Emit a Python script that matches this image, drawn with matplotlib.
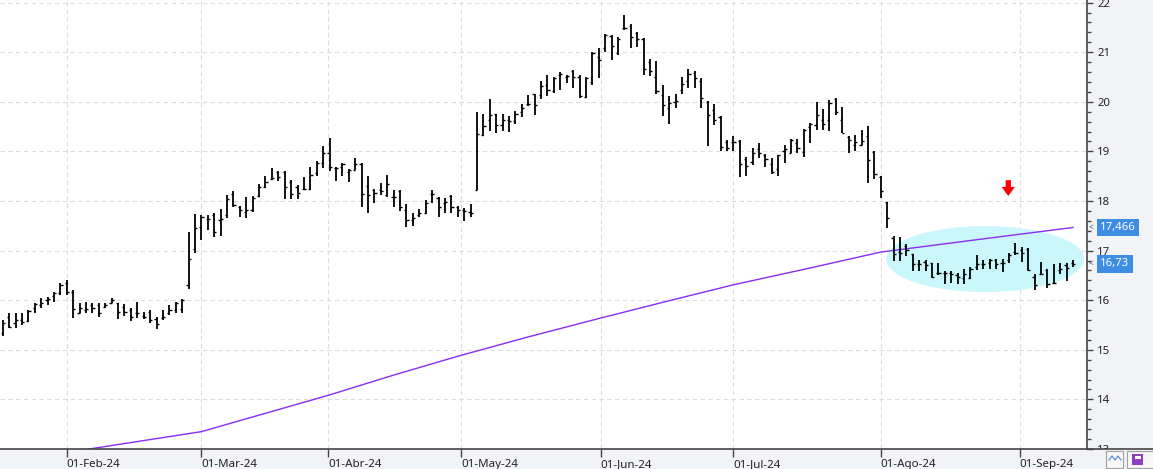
import numpy as np
import pandas as pd
import matplotlib
matplotlib.use('Agg')
import matplotlib.pyplot as plt
import matplotlib.patches as mpatches
import matplotlib.transforms as mtransforms
from matplotlib.lines import Line2D

plt.rcParams['font.family'] = ['Noto Sans', 'DejaVu Sans']

# ── datos ────────────────────────────────────────────────────────────────
# sesiones BME (cerrado: Viernes Santo, Lunes de Pascua, 1 de mayo)
HOLIDAYS = ['2024-03-29', '2024-04-01', '2024-05-01']
dates = pd.bdate_range('2024-01-18', '2024-09-12', freq='C', holidays=HOLIDAYS)

opens = [
    15.33, 15.67, 15.55, 15.60, 15.59, 15.84, 15.90, 16.01, 16.09, 16.15,
    16.34, 16.17, 15.75, 15.80, 15.90, 15.90, 15.87, 15.95, 15.94, 15.87,
    15.80, 15.74, 15.68, 15.77, 15.62, 15.64, 15.75, 15.80, 15.82, 16.31,
    17.04, 17.48, 17.63, 17.72, 17.61, 17.72, 18.15, 17.88, 17.78, 17.82,
    18.11, 18.29, 18.44, 18.59, 18.59, 18.39, 18.29, 18.24, 18.25, 18.56,
    18.76, 18.96, 18.67, 18.69, 18.59, 18.62, 18.74, 18.31, 18.23, 18.22,
    18.12, 18.08, 18.21, 17.82, 17.61, 17.72, 17.76, 18.14, 18.07, 17.96,
    18.10, 17.88, 17.82, 17.78, 18.22, 19.33, 19.63, 19.75, 19.53, 19.63,
    19.62, 19.80, 19.95, 20.15, 20.13, 20.34, 20.22, 20.54, 20.50, 20.62,
    20.50, 20.10, 20.39, 20.91, 21.09, 21.33, 20.98, 21.49, 21.53, 21.38,
    21.26, 20.81, 20.50, 20.14, 19.88, 19.99, 20.24, 20.42, 20.59, 20.42,
    20.00, 19.83, 19.70, 19.19, 19.19, 19.21, 18.84, 18.79, 19.04, 18.93,
    18.74, 18.64, 19.01, 18.97, 19.17, 18.99, 19.50, 19.53, 19.64, 19.63,
    20.05, 19.63, 19.30, 19.13, 19.13, 19.31, 18.99, 18.49, 17.98, 17.25,
    16.98, 17.09, 16.93, 16.73, 16.78, 16.74, 16.54, 16.55, 16.54, 16.51,
    16.44, 16.44, 16.66, 16.73, 16.75, 16.81, 16.75, 16.81, 16.98, 17.02,
    17.04, 16.47, 16.53, 16.61, 16.35, 16.61, 16.71, 16.75,
]
highs = [
    15.60, 15.74, 15.75, 15.74, 15.80, 15.94, 16.04, 16.07, 16.17, 16.34,
    16.41, 16.21, 15.95, 15.97, 15.95, 15.94, 15.95, 16.04, 15.95, 15.92,
    15.84, 15.97, 15.77, 15.80, 15.67, 15.80, 15.90, 15.97, 16.02, 17.38,
    17.73, 17.72, 17.72, 17.75, 17.84, 18.12, 18.20, 17.90, 18.08, 18.10,
    18.35, 18.50, 18.67, 18.60, 18.60, 18.42, 18.32, 18.49, 18.69, 18.80,
    19.11, 19.27, 18.69, 18.76, 18.64, 18.86, 18.76, 18.50, 18.25, 18.37,
    18.52, 18.22, 18.23, 17.94, 17.75, 17.83, 18.02, 18.22, 18.08, 18.07,
    18.12, 17.90, 17.85, 17.94, 19.80, 19.76, 20.05, 19.75, 19.76, 19.71,
    19.82, 19.95, 20.13, 20.15, 20.42, 20.54, 20.50, 20.61, 20.54, 20.64,
    20.54, 20.50, 21.01, 21.09, 21.36, 21.35, 21.31, 21.76, 21.56, 21.40,
    21.28, 20.87, 20.82, 20.34, 20.12, 20.15, 20.50, 20.66, 20.62, 20.47,
    20.01, 19.95, 19.72, 19.23, 19.31, 19.23, 18.89, 19.06, 19.17, 18.95,
    18.86, 18.93, 19.13, 19.24, 19.24, 19.46, 19.58, 20.00, 19.85, 20.03,
    20.07, 19.89, 19.31, 19.33, 19.43, 19.51, 19.01, 18.50, 17.98, 17.29,
    17.27, 17.13, 16.94, 16.82, 16.81, 16.75, 16.75, 16.59, 16.59, 16.55,
    16.62, 16.67, 16.91, 16.81, 16.84, 16.84, 16.84, 16.96, 17.16, 17.08,
    17.06, 16.53, 16.78, 16.62, 16.73, 16.74, 16.75, 16.81,
]
lows = [
    15.27, 15.43, 15.43, 15.50, 15.57, 15.74, 15.84, 15.90, 15.97, 16.11,
    16.11, 15.64, 15.74, 15.75, 15.75, 15.66, 15.84, 15.94, 15.62, 15.69,
    15.58, 15.64, 15.62, 15.55, 15.41, 15.60, 15.70, 15.74, 15.74, 16.22,
    16.96, 17.21, 17.41, 17.28, 17.30, 17.66, 17.88, 17.68, 17.65, 17.77,
    18.09, 18.27, 18.42, 18.40, 18.05, 18.04, 18.05, 18.22, 18.23, 18.51,
    18.67, 18.60, 18.40, 18.51, 18.39, 18.62, 17.88, 17.76, 17.96, 18.12,
    18.08, 17.88, 17.80, 17.48, 17.49, 17.67, 17.74, 17.96, 17.68, 17.76,
    17.76, 17.67, 17.60, 17.68, 18.22, 19.31, 19.42, 19.37, 19.42, 19.40,
    19.56, 19.70, 19.91, 19.73, 20.05, 20.11, 20.17, 20.24, 20.37, 20.27,
    20.07, 20.08, 20.34, 20.48, 21.00, 20.84, 20.94, 21.45, 21.09, 21.11,
    20.55, 20.53, 20.15, 19.72, 19.56, 19.88, 20.15, 20.27, 20.27, 19.88,
    19.11, 19.54, 19.00, 19.00, 19.01, 18.48, 18.50, 18.72, 18.86, 18.68,
    18.54, 18.50, 18.76, 18.96, 18.96, 18.88, 19.17, 19.44, 19.44, 19.42,
    19.73, 19.38, 18.96, 19.01, 19.13, 18.37, 18.45, 18.07, 17.45, 16.80,
    16.80, 16.89, 16.59, 16.59, 16.59, 16.44, 16.51, 16.32, 16.35, 16.32,
    16.32, 16.42, 16.61, 16.62, 16.62, 16.62, 16.57, 16.75, 16.91, 16.78,
    16.59, 16.20, 16.53, 16.24, 16.32, 16.53, 16.39, 16.67,
]
closes = [
    15.55, 15.45, 15.60, 15.57, 15.79, 15.92, 15.94, 16.02, 16.14, 16.31,
    16.17, 15.82, 15.84, 15.82, 15.84, 15.74, 15.90, 16.01, 15.77, 15.77,
    15.67, 15.75, 15.67, 15.60, 15.53, 15.67, 15.80, 15.94, 16.01, 16.84,
    17.45, 17.68, 17.63, 17.37, 17.64, 18.04, 17.92, 17.82, 17.82, 18.06,
    18.29, 18.39, 18.47, 18.49, 18.29, 18.15, 18.17, 18.25, 18.52, 18.76,
    18.96, 18.69, 18.66, 18.74, 18.62, 18.74, 18.15, 18.13, 18.17, 18.21,
    18.34, 18.08, 17.88, 17.61, 17.65, 17.75, 17.95, 18.14, 17.88, 17.98,
    17.88, 17.82, 17.80, 17.76, 19.35, 19.51, 19.73, 19.53, 19.63, 19.62,
    19.76, 19.87, 19.95, 19.93, 20.32, 20.24, 20.47, 20.57, 20.53, 20.49,
    20.12, 20.48, 20.98, 20.84, 21.35, 21.13, 21.26, 21.48, 21.31, 21.26,
    20.67, 20.62, 20.22, 19.93, 19.97, 20.02, 20.35, 20.57, 20.48, 20.07,
    19.73, 19.63, 19.09, 19.06, 19.19, 18.74, 18.70, 18.97, 18.97, 18.84,
    18.59, 18.93, 19.04, 19.23, 19.06, 19.44, 19.55, 19.73, 19.55, 19.97,
    19.80, 19.38, 19.23, 19.19, 19.21, 18.82, 18.54, 18.21, 17.65, 16.94,
    16.96, 17.02, 16.73, 16.73, 16.71, 16.46, 16.54, 16.55, 16.53, 16.46,
    16.53, 16.62, 16.73, 16.73, 16.82, 16.73, 16.75, 16.91, 16.96, 16.96,
    16.61, 16.30, 16.53, 16.32, 16.35, 16.62, 16.64, 16.73,
]

# media móvil larga (lecturas del gráfico)
ma_dates = ['2024-02-06', '2024-02-19', '2024-03-01', '2024-03-15', '2024-04-02',
            '2024-04-16', '2024-04-30', '2024-05-16', '2024-05-31', '2024-06-17',
            '2024-07-01', '2024-07-17', '2024-08-01', '2024-08-22', '2024-09-12']
ma_vals = [12.99, 13.17, 13.35, 13.72, 14.09, 14.49, 14.87, 15.26, 15.63, 15.99,
           16.31, 16.65, 16.97, 17.22, 17.466]

MESES = ['Ene', 'Feb', 'Mar', 'Abr', 'May', 'Jun', 'Jul', 'Ago', 'Sep', 'Oct', 'Nov', 'Dic']
month_starts = pd.date_range('2024-02-01', '2024-09-01', freq='MS')

# ── figura ───────────────────────────────────────────────────────────────
W, H = 1153, 469
PLOT_R, PLOT_B = 1087, 20      # px
BAR_PX, UNIT_PX = 6.409, 49.6  # px por sesión / por euro

fig = plt.figure(figsize=(W / 100, H / 100), dpi=100, facecolor='#f2f3f6')
ax = fig.add_axes([0, PLOT_B / H, PLOT_R / W, 1 - PLOT_B / H])
ax.set_facecolor('white')

x = np.arange(len(dates))
ords = np.array([d.toordinal() for d in dates])
ax.set_xlim(-2.7 / BAR_PX, (PLOT_R - 2.7) / BAR_PX)
ax.set_ylim(13, 13 + (H - PLOT_B) / UNIT_PX)

# zona resaltada
ell = mpatches.Ellipse((153.3, 16.83), 30.9, 1.33, facecolor='#c9f7fb', edgecolor='none', zorder=1)
ax.add_patch(ell)

# media móvil
ma_x = np.interp([pd.Timestamp(d).toordinal() for d in ma_dates], ords, x)
ax.plot(ma_x, ma_vals, color='#8a2cf2', lw=1.0, zorder=2)

# barras OHLC
ax.vlines(x, lows, highs, color='black', lw=1.3, zorder=3)
ax.hlines(opens, x - 0.34, x, color='black', lw=1.0, zorder=3)
ax.hlines(closes, x, x + 0.34, color='black', lw=1.0, zorder=3)

# flecha roja
ax.annotate('', xy=(156.9, 18.10), xytext=(156.9, 18.42),
            arrowprops=dict(arrowstyle='simple,head_width=0.95,head_length=0.65,tail_width=0.38',
                            color='#ff0000', lw=0, shrinkA=0, shrinkB=0), zorder=4)

# ejes
tick_x = np.interp([m.toordinal() for m in month_starts], ords, x)
tick_lab = [f"01-{MESES[m.month - 1]}-{m.strftime('%y')}" for m in month_starts]
ax.set_xticks(tick_x, tick_lab, ha='left')
ax.yaxis.tick_right()
ax.set_yticks(range(13, 23))
ax.yaxis.set_minor_locator(matplotlib.ticker.MultipleLocator(0.2))
ax.tick_params(axis='y', which='major', length=4.5, width=1, color='#444', pad=3,
               labelsize=8.2, labelcolor='#222')
ax.tick_params(axis='y', which='minor', length=2.8, width=1, color='#444')
ax.tick_params(axis='x', length=5.5, width=1, color='#444', pad=1.5,
               labelsize=8.3, labelcolor='#222')
ax.grid(True, which='major', color='#dcdcdc', lw=0.8, linestyle=(0, (4, 3)))
ax.set_axisbelow(True)
for s in ('left', 'top'):
    ax.spines[s].set_visible(False)
for s in ('right', 'bottom'):
    ax.spines[s].set_color('#444')
    ax.spines[s].set_linewidth(1.2)

# el "13" queda medio tapado por la banda inferior
clip = mpatches.Rectangle((0, PLOT_B / H), 1, 1, transform=fig.transFigure)
for t in ax.yaxis.get_major_ticks():
    t.label2.set_clip_path(clip)

fig.add_artist(Line2D([PLOT_R / W, 1], [PLOT_B / H, PLOT_B / H], color='#444', lw=1.2))

# etiquetas de último valor
trans = mtransforms.blended_transform_factory(ax.transAxes, ax.transData)
for val, txt in [(ma_vals[-1], f"{ma_vals[-1]:.3f}".replace('.', ',')),
                 (closes[-1], f"{closes[-1]:.2f}".replace('.', ','))]:
    ax.text(1100 / PLOT_R, val, txt, transform=trans, ha='left', va='center',
            color='white', fontsize=8.2, clip_on=False, zorder=5,
            bbox=dict(boxstyle='square,pad=0.3', fc='#3d8de2', ec='none'))
    ax.text(1088.5 / PLOT_R, val, '<', transform=trans, ha='left', va='center',
            color='#555', fontsize=6, clip_on=False)

# iconos de la esquina
fig.add_artist(mpatches.Rectangle((1106 / W, 1 / H), 17 / W, 17 / H, transform=fig.transFigure,
                                  fc='#f7f7f7', ec='#a0a0a0', lw=0.8))
fig.add_artist(Line2D(np.array([1109, 1112, 1115, 1118, 1121]) / W,
                      np.array([9, 13, 9, 13, 9]) / H, color='#5b8fd8', lw=0.9))
fig.add_artist(mpatches.Rectangle((1127 / W, 1 / H), 30 / W, 17 / H, transform=fig.transFigure,
                                  fc='#f7f7f7', ec='#a0a0a0', lw=0.8))
fig.add_artist(mpatches.Rectangle((1132 / W, 4 / H), 11 / W, 11 / H, transform=fig.transFigure,
                                  fc='#8c3fc2', ec='none'))
fig.add_artist(mpatches.Rectangle((1134.5 / W, 10 / H), 6 / W, 3.5 / H, transform=fig.transFigure,
                                  fc='white', ec='none'))

fig.savefig('out.png', dpi=100, facecolor=fig.get_facecolor())
